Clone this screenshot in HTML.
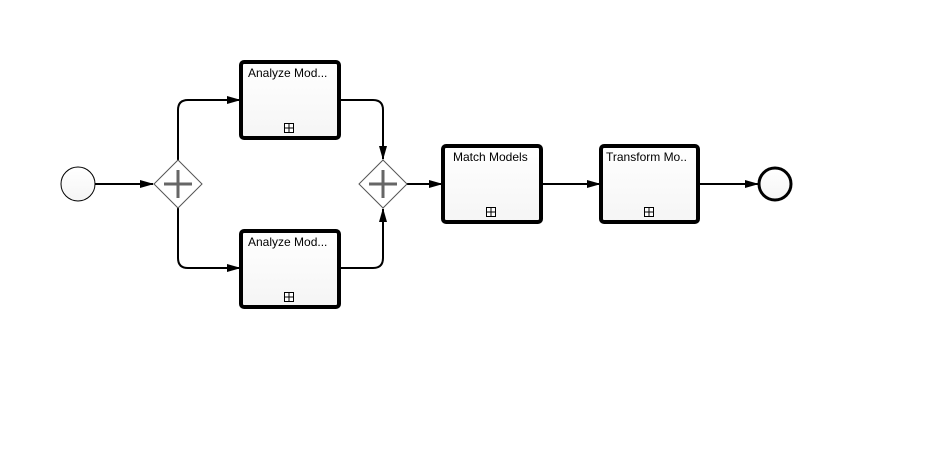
<!DOCTYPE html>
<html><head><style>body{margin:0;background:#fff}svg{display:block}</style></head><body>
<svg width="949" height="465" xmlns="http://www.w3.org/2000/svg" font-family="Liberation Sans, sans-serif">
<defs>
<linearGradient id="g" x1="0" y1="0" x2="0" y2="1"><stop offset="0" stop-color="#fff"/><stop offset="1" stop-color="#f5f5f5"/></linearGradient>
<marker id="a" markerWidth="14" markerHeight="10" refX="13" refY="5" orient="auto" markerUnits="userSpaceOnUse"><path d="M0,1 L14,5 L0,9 Z" fill="#000"/></marker>
</defs>
<g fill="none" stroke="#000" stroke-width="2">
<path d="M95,184 H153" marker-end="url(#a)"/>
<path d="M178,160 V110 Q178,100 188,100 H240" marker-end="url(#a)"/>
<path d="M178,208 V258 Q178,268 188,268 H240" marker-end="url(#a)"/>
<path d="M339,100 H373 Q383,100 383,110 V159" marker-end="url(#a)"/>
<path d="M339,268 H373 Q383,268 383,258 V209" marker-end="url(#a)"/>
<path d="M407,184 H442" marker-end="url(#a)"/>
<path d="M541,184 H600" marker-end="url(#a)"/>
<path d="M698,184 H758" marker-end="url(#a)"/>
</g>
<circle cx="78" cy="184" r="17" fill="url(#g)" stroke="#000" stroke-width="1"/>
<circle cx="775" cy="184" r="16" fill="url(#g)" stroke="#000" stroke-width="3"/>
<g stroke="#555" stroke-width="1" fill="#fff">
<path d="M178,160 L202,184 L178,208 L154,184 Z"/>
<path d="M383,160 L407,184 L383,208 L359,184 Z"/>
</g>
<g stroke="#666" stroke-width="3">
<path d="M178,170 V198 M164,184 H192"/>
<path d="M383,170 V198 M369,184 H397"/>
</g>
<g fill="url(#g)" stroke="#000" stroke-width="4">
<rect x="241" y="62" width="98" height="76" rx="3"/>
<rect x="241" y="231" width="98" height="76" rx="3"/>
<rect x="443" y="146" width="98" height="76" rx="3"/>
<rect x="601" y="146" width="97" height="76" rx="3"/>
</g>
<g font-size="12" fill="#000">
<text x="248" y="77">Analyze Mod...</text>
<text x="248" y="246">Analyze Mod...</text>
<text x="453" y="161">Match Models</text>
<text x="606" y="161">Transform Mo..</text>
</g>
<g fill="#fff" stroke="#000" stroke-width="1">
<rect x="284.5" y="123.5" width="9" height="9"/><path d="M289,123.5 V132.5 M284.5,128 H293.5"/>
<rect x="284.5" y="292.5" width="9" height="9"/><path d="M289,292.5 V301.5 M284.5,297 H293.5"/>
<rect x="486.5" y="207.5" width="9" height="9"/><path d="M491,207.5 V216.5 M486.5,212 H495.5"/>
<rect x="644.5" y="207.5" width="9" height="9"/><path d="M649,207.5 V216.5 M644.5,212 H653.5"/>
</g>
</svg>
</body></html>
